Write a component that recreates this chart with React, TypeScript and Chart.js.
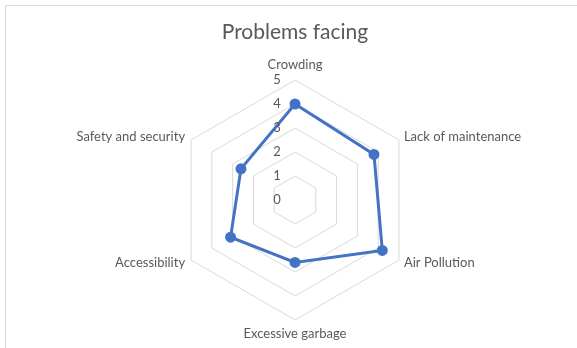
import React, { useEffect, useRef } from "react";
import { Chart, registerables } from "chart.js";

Chart.register(...registerables);

const title = "Problems facing";
const categories = [
  "Crowding",
  "Lack of maintenance",
  "Air Pollution",
  "Excessive garbage",
  "Accessibility",
  "Safety and security",
];
const seriesValues = [4.0, 3.8, 4.2, 2.6, 3.1, 2.6];
const tickValues = [0, 1, 2, 3, 4, 5];

const FONT = "Lato, 'Open Sans', sans-serif";
const TEXT = "#595959";
const BLUE = "#4472C4";

const labelPlugin = {
  id: "customLabels",
  afterDraw(chart: any) {
    const s = chart.scales.r;
    const ctx = chart.ctx;
    ctx.save();
    ctx.font = `13px ${FONT}`;
    ctx.fillStyle = TEXT;
    // tick labels, offset to the left of the vertical axis
    ctx.textAlign = "center";
    ctx.textBaseline = "middle";
    tickValues.forEach((v) => {
      const d = s.getDistanceFromCenterForValue(v);
      ctx.fillText(String(v), s.xCenter - 18, s.yCenter - d);
    });
    // category labels around the outer ring
    categories.forEach((lab, i) => {
      const p = s.getPointPosition(i, s.drawingArea);
      const dx = p.x - s.xCenter;
      const dy = p.y - s.yCenter;
      if (Math.abs(dx) < 1) {
        ctx.textAlign = "center";
        if (dy < 0) {
          ctx.textBaseline = "bottom";
          ctx.fillText(lab, p.x, p.y - 9);
        } else {
          ctx.textBaseline = "top";
          ctx.fillText(lab, p.x, p.y + 7);
        }
      } else {
        ctx.textAlign = dx > 0 ? "left" : "right";
        ctx.textBaseline = "middle";
        ctx.fillText(lab, p.x + (dx > 0 ? 5 : -6), p.y + (dy < 0 ? -3 : 3));
      }
    });
    ctx.restore();
  },
};

export default function App() {
  const ref = useRef<HTMLCanvasElement>(null);
  useEffect(() => {
    const chart = new Chart(ref.current!, {
      type: "radar",
      data: {
        labels: categories,
        datasets: [
          {
            label: "Series1",
            data: seriesValues,
            borderColor: BLUE,
            backgroundColor: BLUE,
            borderWidth: 3,
            pointRadius: 4,
            pointBackgroundColor: BLUE,
            pointBorderColor: BLUE,
            fill: false,
          },
        ],
      },
      options: {
        animation: false,
        responsive: false,
        devicePixelRatio: 1,
        layout: { padding: { left: 13, right: 0, top: 0, bottom: 28 } },
        plugins: {
          legend: { display: false },
          tooltip: { enabled: false },
          title: {
            display: true,
            text: title,
            color: TEXT,
            font: { family: FONT, size: 21, weight: "normal", lineHeight: 1.2 },
            padding: { top: 20, bottom: 34.8 },
          },
        },
        scales: {
          r: {
            min: 0,
            max: 5,
            ticks: { stepSize: 1, display: false },
            grid: { color: "#d9d9d9", lineWidth: 1 },
            angleLines: { display: false },
            pointLabels: { display: false },
          },
        },
      },
      plugins: [labelPlugin],
    });
    return () => chart.destroy();
  }, []);
  return (
    <div
      style={{
        position: "fixed",
        left: 0,
        top: 0,
        width: 577,
        height: 348,
        overflow: "hidden",
        background: "#fff",
      }}
    >
      <div
        style={{
          position: "absolute",
          left: 5,
          top: 5,
          width: 620,
          height: 400,
          border: "1px solid #d9d9d9",
        }}
      />
      <canvas
        ref={ref}
        width={577}
        height={348}
        style={{ position: "absolute", left: 0, top: 0 }}
      />
    </div>
  );
}
